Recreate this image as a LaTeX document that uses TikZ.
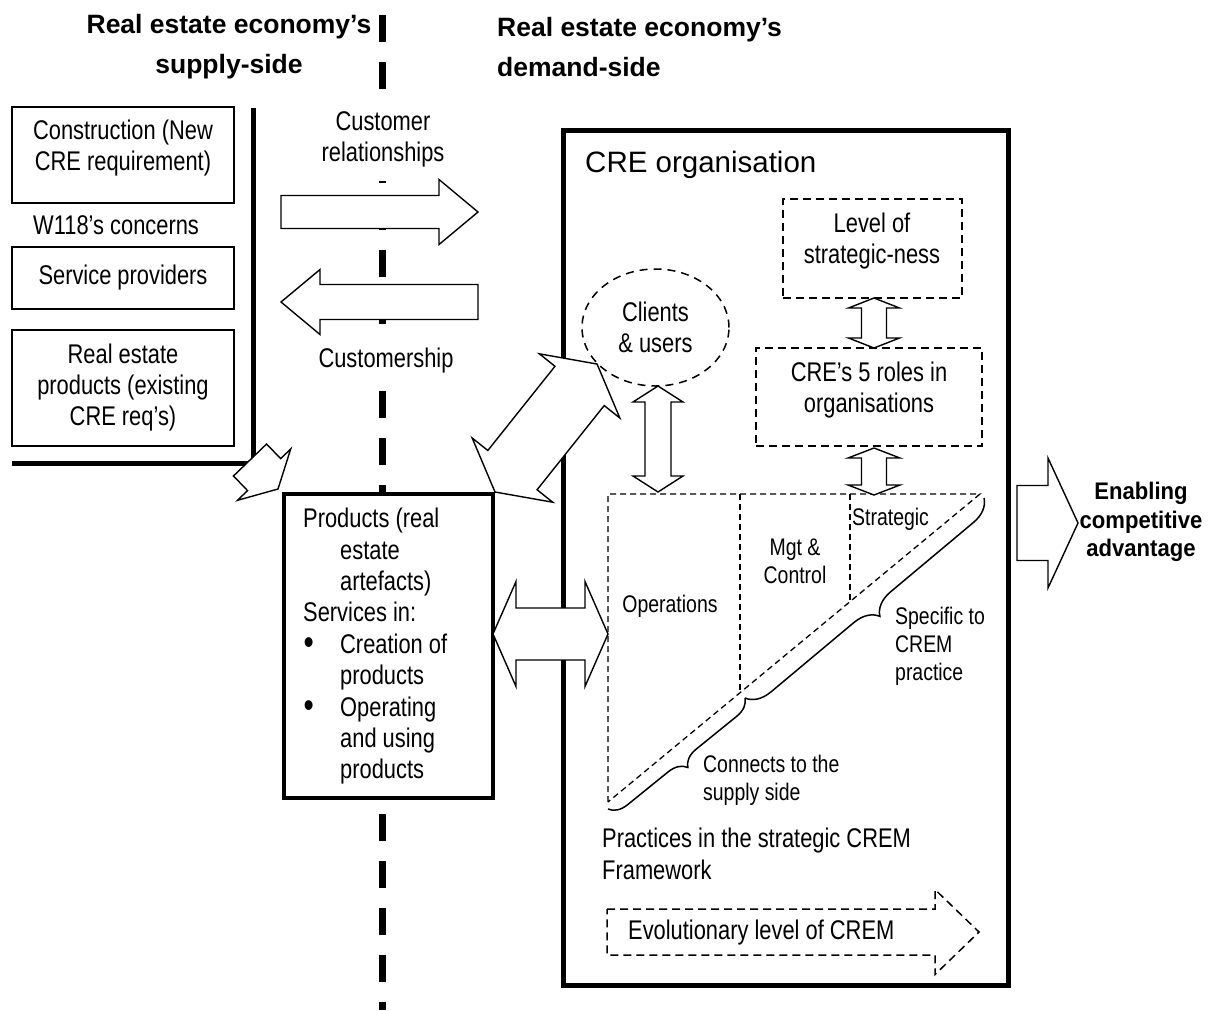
\documentclass[tikz,border=0pt]{standalone}
\usepackage{fontspec}
\setmainfont{Liberation Sans}[FakeStretch=0.81]
\newfontfamily\widefont{Liberation Sans}
\newfontfamily\enabfont{Liberation Sans}[FakeStretch=0.92]
\usetikzlibrary{shapes.geometric,calc,decorations.pathreplacing,positioning}

% block arrow: [style]{from}{to}{half shaft}{half head}{head length}
\newcommand{\fatarrow}[6][]{%
  \coordinate (fa-b) at ($(#3)!#6!(#2)$);
  \draw[#1] ($(#2)!#4!90:(#3)$) -- ($(fa-b)!#4!90:(#3)$) -- ($(fa-b)!#5!90:(#3)$) -- (#3)
    -- ($(fa-b)!#5!-90:(#3)$) -- ($(fa-b)!#4!-90:(#3)$) -- ($(#2)!#4!-90:(#3)$) -- cycle;}
\newcommand{\fatdarrow}[6][]{%
  \coordinate (fa-a) at ($(#2)!#6!(#3)$);
  \coordinate (fa-b) at ($(#3)!#6!(#2)$);
  \draw[#1] (#2) -- ($(fa-a)!#5!90:(#3)$) -- ($(fa-a)!#4!90:(#3)$) -- ($(fa-b)!#4!90:(#3)$)
    -- ($(fa-b)!#5!90:(#3)$) -- (#3) -- ($(fa-b)!#5!-90:(#3)$) -- ($(fa-b)!#4!-90:(#3)$)
    -- ($(fa-a)!#4!-90:(#3)$) -- ($(fa-a)!#5!-90:(#3)$) -- cycle;}
\newcommand{\bul}{\makebox[37pt][l]{\hspace{0.5pt}\fontsize{36}{31.4}\selectfont\raisebox{-1pt}{\textbullet}}}

\begin{document}
\begin{tikzpicture}[x=1pt, y=-1pt,
    sbox/.style={draw, line width=1.3pt, minimum width=222, align=center, inner sep=0pt, font=\fontsize{27}{31}\selectfont},
    dbox/.style={draw, line width=1.5pt, dash pattern=on 8pt off 5pt, inner sep=0pt},
    lbl/.style={font=\fontsize{27}{31}\selectfont, align=center, inner sep=0pt},
    sml/.style={font=\fontsize{24}{28}\selectfont, align=left, inner sep=0pt},
    ttl/.style={font=\widefont\bfseries\fontsize{26.5}{40}\selectfont, inner sep=0pt},
    heavy/.style={line width=5pt},
    blk/.style={draw, line width=1.4pt, fill=white, line join=miter},
    tri/.style={line width=1.3pt, dash pattern=on 6pt off 4pt},
    brc/.style={decorate, decoration={brace, amplitude=#1, mirror}, line width=1.5pt}]
\useasboundingbox (0,0) rectangle (1208,1010);

\draw[line width=7pt, dash pattern=on 27pt off 20pt] (382,15) -- (382,1010);

\node[ttl, align=center] (suptl) at (229,47) {Real estate economy’s\\supply-side};
\node[ttl, align=left, anchor=west] (demtl) at (497,47) {Real estate economy’s\\demand-side};

\node[sbox, minimum height=96] (constr) at (123,155) {};
\node[lbl] (constrtxt) at (123,148) {Construction (New\\CRE requirement)};
\node[lbl, anchor=west] (w118) at (33,225) {W118’s concerns};
\node[sbox, minimum height=62] (serv) at (123,278) {Service providers};
\node[sbox, minimum height=116] (reprod) at (123,388) {Real estate\\products (existing\\CRE req’s)};
\draw[heavy] (253,108) -- (253,463) -- (12,463);

\node[lbl, fill=white, inner xsep=4pt, inner ysep=14pt] (crel) at (383,139) {Customer\\relationships};
\node[lbl, fill=white, inner sep=6pt] (cship) at (386,361) {Customership};
\coordinate (rel-a) at (281,212); \coordinate (rel-b) at (478,212);
\fatarrow[blk]{rel-a}{rel-b}{16.5pt}{32.5pt}{39pt}
\coordinate (cs-a) at (478,302); \coordinate (cs-b) at (281,302);
\fatarrow[blk]{cs-a}{cs-b}{17.5pt}{32.5pt}{39pt}

\node[draw, line width=4pt, fill=white, minimum width=209, minimum height=304, anchor=north west] (prod) at (282,492) {};
\node[lbl, font=\fontsize{27}{31.4}\selectfont, align=left, anchor=north west] (prodtxt) at (303,508) {Products (real\\
  \hspace*{37pt}estate\\
  \hspace*{37pt}artefacts)\\
  Services in:\\
  \bul Creation of\\
  \hspace*{37pt}products\\
  \bul Operating\\
  \hspace*{37pt}and using\\
  \hspace*{37pt}products};
\coordinate (sup-a) at (250,460); \coordinate (sup-b) at (278,489);
\fatarrow[blk]{sup-a}{sup-b}{23pt}{37pt}{20pt}

\node[draw, line width=5pt, minimum width=445, minimum height=855] (org) at (785.5,557.5) {};
\node[anchor=west, inner sep=0pt, font=\widefont\fontsize{29.5}{34}\selectfont] (orgtl) at (585,165) {CRE organisation};

\node[dbox, minimum width=179, minimum height=99] (lvl) at (872.5,248.5) {};
\node[lbl] (lvltxt) at (872,241.5) {Level of\\strategic-ness};
\node[dbox, minimum width=226, minimum height=98] (roles) at (869,397) {};
\node[lbl] (rolestxt) at (869,390.5) {CRE’s 5 roles in\\organisations};
\node[lbl, draw, ellipse, line width=1.5pt, dash pattern=on 8pt off 6pt, minimum width=147, minimum height=117] (cli) at (655.5,327.5) {Clients\\\& users};

\coordinate (tri-tl) at (608,494); \coordinate (tri-tr) at (980,494); \coordinate (tri-bl) at (608,802);
\draw[tri] (tri-bl) -- (tri-tl) -- (tri-tr) -- cycle;
\draw[tri] (740,494) -- (740,693);
\draw[tri] (850,494) -- (850,602);
\draw[brc=18pt] (608,809) -- (745,698);
\draw[brc=24pt] (745,698) -- (984,498);
\node[sml] (ops) at (670,606) {Operations};
\node[sml, align=center] (mgt) at (795,561) {Mgt \&\\Control};
\node[sml, anchor=west] (strat) at (852,519) {Strategic};
\node[sml, anchor=west] (conn) at (703,780) {Connects to the\\supply side};
\node[sml, anchor=west] (spec) at (895,646) {Specific to\\CREM\\practice};
\node[lbl, font=\fontsize{27}{32}\selectfont, align=left, anchor=west] (prac) at (602,854) {Practices in the strategic CREM\\Framework};

\coordinate (ev-a) at (607,932); \coordinate (ev-b) at (979,932);
\fatarrow[draw, line width=1.5pt, dash pattern=on 8pt off 5pt]{ev-a}{ev-b}{23pt}{42.5pt}{44pt}
\node[lbl, anchor=west] (evo) at (628,933) {Evolutionary level of CREM};

\fatdarrow[blk]{prod.north east}{cli.212}{31.5pt}{51.5pt}{28pt}
\coordinate (ops-a) at (493,634); \coordinate (ops-b) at (608,634);
\fatdarrow[blk]{ops-a}{ops-b}{26pt}{52.5pt}{23pt}
\coordinate (cli-a) at (658,386); \coordinate (cli-b) at (658,492);
\fatdarrow[blk]{cli-a}{cli-b}{13pt}{25pt}{16pt}
\coordinate (lvl-a) at (874,298); \coordinate (lvl-b) at (874,348);
\fatdarrow[blk]{lvl-a}{lvl-b}{12.5pt}{25.5pt}{10pt}
\coordinate (rol-a) at (874,448); \coordinate (rol-b) at (874,495);
\fatdarrow[blk]{rol-a}{rol-b}{12.5pt}{26pt}{10pt}

\coordinate (en-a) at (1017,523); \coordinate (en-b) at (1078,523);
\fatarrow[blk]{en-a}{en-b}{37.5pt}{65pt}{30pt}
\node[font=\enabfont\bfseries\fontsize{24}{28.5}\selectfont, align=center, inner sep=0pt] (enab) at (1141,522) {Enabling\\competitive\\advantage};
\end{tikzpicture}
\end{document}
